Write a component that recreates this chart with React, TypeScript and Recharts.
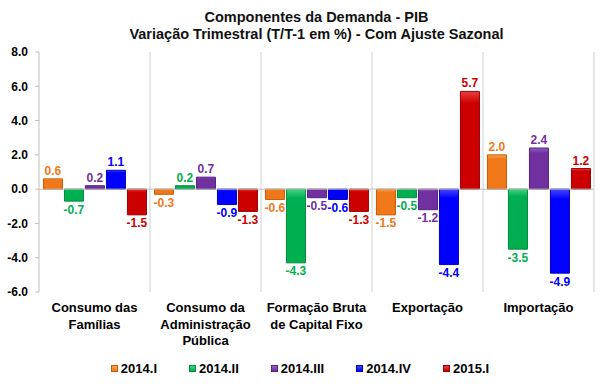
import { BarChart, Bar, XAxis, YAxis, ReferenceLine, LabelList, Legend } from "recharts"

if (typeof document !== "undefined") document.body.style.margin = "0"

// Categories (line breaks as in the original labels)
const categories = [
  "Consumo das\nFamílias",
  "Consumo da\nAdministração\nPública",
  "Formação Bruta\nde Capital Fixo",
  "Exportação",
  "Importação",
]

const quarters = ["2014.I", "2014.II", "2014.III", "2014.IV", "2015.I"]

const q2014I = [0.6, -0.3, -0.6, -1.5, 2.0]
const q2014II = [-0.7, 0.2, -4.3, -0.5, -3.5]
const q2014III = [0.2, 0.7, -0.5, -1.2, 2.4]
const q2014IV = [1.1, -0.9, -0.6, -4.4, -4.9]
const q2015I = [-1.5, -1.3, -1.3, 5.7, 1.2]

const yTicks = [-6, -4, -2, 0, 2, 4, 6, 8]

const seriesValues = [q2014I, q2014II, q2014III, q2014IV, q2015I]

// colours: main, light (top of bevel), dark (border)
const colors = [
  { main: "#F07818", light: "#F9A55A", dark: "#C85A00" },
  { main: "#00B050", light: "#3FD684", dark: "#008A3C" },
  { main: "#7030A0", light: "#9660C0", dark: "#55207E" },
  { main: "#0000FF", light: "#4848FF", dark: "#0000B8" },
  { main: "#CC0000", light: "#E84040", dark: "#990000" },
]

const data = categories.map((name, i) => {
  const row: Record<string, string | number> = { name }
  quarters.forEach((q, j) => {
    row[q] = seriesValues[j][i]
  })
  return row
})

const FONT = "'Liberation Sans', Arial, sans-serif"

function CategoryTick(props: any) {
  const { x, y, payload } = props
  const lines = String(payload.value).split("\n")
  return (
    <text x={x} y={y} textAnchor="middle" fontFamily={FONT} fontWeight="bold" fontSize={13} fill="#000">
      {lines.map((l, i) => (
        <tspan key={i} x={x} dy={i === 0 ? 12 : 16.5}>
          {l}
        </tspan>
      ))}
    </text>
  )
}

function LegendContent() {
  return (
    <div style={{ display: "flex", justifyContent: "center", gap: 32, fontFamily: FONT, fontWeight: "bold", fontSize: 13, height: 20, alignItems: "center", paddingLeft: 6 }}>
      {quarters.map((q, i) => (
        <div key={q} style={{ display: "flex", alignItems: "center" }}>
          <span
            style={{
              display: "inline-block",
              width: 7,
              height: 7,
              marginRight: 3,
              background: `linear-gradient(${colors[i].light}, ${colors[i].main})`,
              border: `1px solid ${colors[i].dark}`,
              boxSizing: "border-box",
            }}
          />
          <span>{q}</span>
        </div>
      ))}
    </div>
  )
}

export default function App() {
  return (
    <div style={{ position: "relative", width: 600, height: 385, background: "#fff", fontFamily: FONT }}>
      <div
        style={{
          position: "absolute",
          top: 9,
          left: 39,
          width: 555,
          textAlign: "center",
          fontWeight: "bold",
          fontSize: 14.5,
          lineHeight: "17px",
          color: "#111",
        }}
      >
        Componentes da Demanda - PIB
        <br />
        Variação Trimestral (T/T-1 em %) - Com Ajuste Sazonal
      </div>
      <BarChart
        width={600}
        height={385}
        data={data}
        margin={{ top: 52, right: 6, left: 0, bottom: 7 }}
        barCategoryGap="4%"
        barGap={2}
      >
        <defs>
          {colors.map((c, i) => (
            <linearGradient key={i} id={`grad${i}`} x1="0" y1="0" x2="0" y2="1">
              <stop offset="0%" stopColor={c.light} />
              <stop offset="12%" stopColor={c.main} />
              <stop offset="100%" stopColor={c.main} />
            </linearGradient>
          ))}
        </defs>
        <XAxis
          dataKey="name"
          axisLine={false}
          tickLine={false}
          interval={0}
          height={66}
          tick={<CategoryTick />}
        />
        <YAxis
          domain={[-6, 8]}
          ticks={yTicks}
          width={39}
          tickSize={4}
          tickMargin={7}
          axisLine={{ stroke: "#BFBFBF" }}
          tickLine={{ stroke: "#BFBFBF" }}
          tickFormatter={(v: number) => v.toFixed(1)}
          tick={{ fontFamily: FONT, fontWeight: "bold", fontSize: 12, fill: "#000" }}
        />
        {categories.slice(1).map((c) => (
          <ReferenceLine key={c} x={c} position="start" stroke="#D0D0D0" />
        ))}
        <ReferenceLine x={categories[categories.length - 1]} position="end" stroke="#D0D0D0" />
        <ReferenceLine y={0} stroke="#BFBFBF" />
        <Legend verticalAlign="bottom" content={<LegendContent />} />
        {quarters.map((q, i) => (
          <Bar
            key={q}
            dataKey={q}
            fill={`url(#grad${i})`}
            stroke={colors[i].dark}
            strokeWidth={1}
            isAnimationActive={false}
          >
            <LabelList
              dataKey={q}
              position="top"
              offset={4}
              formatter={(v: any) => Number(v).toFixed(1)}
              fill={colors[i].main}
              fontFamily={FONT}
              fontWeight="bold"
              fontSize={12}
            />
          </Bar>
        ))}
      </BarChart>
    </div>
  )
}
